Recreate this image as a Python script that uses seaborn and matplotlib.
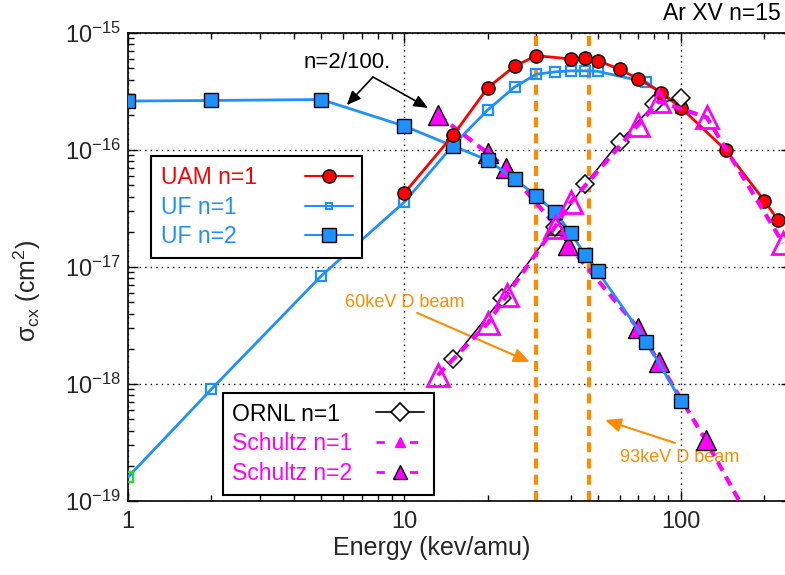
import numpy as np
import pandas as pd
import seaborn as sns
import matplotlib.pyplot as plt
from matplotlib.lines import Line2D
from matplotlib.ticker import LogLocator, FixedLocator, FuncFormatter, NullFormatter, LogFormatterMathtext

# %% data

uam_e = [10, 15, 20, 25, 30, 40, 45, 50, 60, 70, 85, 100, 145, 200, 225]
uam_s = [4.3e-17, 1.34e-16, 3.4e-16, 5.2e-16, 6.4e-16, 6.0e-16, 6.1e-16, 5.8e-16,
         4.9e-16, 4.05e-16, 3.1e-16, 2.3e-16, 1.0e-16, 3.7e-17, 2.5e-17]

uf1_e = [1, 2, 5, 10, 15, 20, 25, 30, 35, 40, 45, 50, 75, 100]
uf1_s = [1.6e-19, 9.0e-19, 8.4e-18, 3.6e-17, 1.1e-16, 2.2e-16, 3.45e-16, 4.45e-16,
         4.65e-16, 4.75e-16, 4.75e-16, 4.7e-16, 3.8e-16, 2.3e-16]

uf2_e = [1, 2, 5, 10, 15, 20, 25, 30, 35, 40, 45, 50, 75, 100]
uf2_s = [2.62e-16, 2.65e-16, 2.7e-16, 1.6e-16, 1.08e-16, 8.2e-17, 5.65e-17, 4.05e-17,
         2.95e-17, 1.95e-17, 1.27e-17, 9.2e-18, 2.3e-18, 7.2e-19]

ornl_e = [15, 22.5, 35, 45, 60, 80, 100]
ornl_s = [1.64e-18, 5.4e-18, 2.2e-17, 5.1e-17, 1.18e-16, 2.45e-16, 2.8e-16]

sch1_e = [13.2, 20, 23.5, 35, 40, 70, 83, 124, 234]
sch1_s = [1.19e-18, 3.3e-18, 5.8e-18, 2.2e-17, 3.6e-17, 1.64e-16, 2.6e-16, 1.9e-16, 1.6e-17]

sch2_e = [13.2, 20, 23.3, 35, 39, 70, 83, 123, 234]
sch2_s = [2.0e-16, 9.4e-17, 7.0e-17, 2.3e-17, 1.55e-17, 3.0e-18, 1.55e-18, 3.3e-19, 2.1e-20]

beam_e = [30, 46.5]  # 60 keV and 93 keV D beams, per amu

x_ticks = [1, 10, 100]
y_ticks = [1e-19, 1e-18, 1e-17, 1e-16, 1e-15]

# %% style

sns.set_theme(style='ticks')
plt.rcParams['font.family'] = ['Liberation Sans', 'DejaVu Sans']
plt.rcParams['mathtext.fontset'] = 'custom'
plt.rcParams['mathtext.rm'] = 'Liberation Sans'
plt.rcParams['mathtext.it'] = 'Liberation Sans:italic'
plt.rcParams['mathtext.bf'] = 'Liberation Sans:bold'

red = '#FF0000'
blue = '#1E90FF'
mag = '#FF00FF'
orange = '#FF8C00'

fig = plt.figure(figsize=(7.85, 5.75), dpi=100)
ax = fig.add_axes([128/785, 74/575, 663/785, 468/575])
ax.set_xscale('log')
ax.set_yscale('log')

for x in beam_e:
    ax.axvline(x, color=orange, lw=3, linestyle=(0, (2.4, 1.5)), zorder=1.5)

sns.lineplot(x=uf1_e, y=uf1_s, ax=ax, estimator=None, sort=False, color=blue, lw=2,
             marker='s', markersize=7, markerfacecolor='none', markeredgecolor=blue,
             markeredgewidth=1.6, zorder=3)
sns.lineplot(x=uf1_e[:1], y=uf1_s[:1], ax=ax, estimator=None, color='#22DD22', lw=0,
             marker='s', markersize=7, markerfacecolor='none', markeredgecolor='#22DD22',
             markeredgewidth=1.6, zorder=3)
sns.lineplot(x=sch2_e, y=sch2_s, ax=ax, estimator=None, sort=False, color=mag, lw=3,
             linestyle=(0, (2.4, 1.6)), marker='^', markersize=14, markerfacecolor=mag,
             markeredgecolor='black', markeredgewidth=1, zorder=4)
sns.lineplot(x=uf2_e, y=uf2_s, ax=ax, estimator=None, sort=False, color=blue, lw=2,
             marker='s', markersize=9.5, markerfacecolor=blue, markeredgecolor='black',
             markeredgewidth=1, zorder=5)
sns.lineplot(x=uam_e, y=uam_s, ax=ax, estimator=None, sort=False, color=red, lw=2,
             marker='o', markersize=9.5, markerfacecolor=red, markeredgecolor='black',
             markeredgewidth=1, zorder=6)
sns.lineplot(x=ornl_e, y=ornl_s, ax=ax, estimator=None, sort=False, color='black', lw=1.1,
             marker='D', markersize=9, markerfacecolor='white', markeredgecolor='black',
             markeredgewidth=1.1, zorder=7)
sns.lineplot(x=sch1_e, y=sch1_s, ax=ax, estimator=None, sort=False, color=mag, lw=3,
             linestyle=(0, (2.4, 1.6)), marker='^', markersize=15.5, markerfacecolor='none',
             markeredgecolor=mag, markeredgewidth=2, zorder=8)

ax.set_xlim(1, 250)
ax.set_ylim(1e-19, 1e-15)

# ticks, IDL look
ax.xaxis.set_major_locator(FixedLocator(x_ticks))
ax.xaxis.set_minor_locator(LogLocator(base=10, subs=range(2, 10)))
ax.xaxis.set_major_formatter(FuncFormatter(lambda v, p: f'{v:g}'))
ax.xaxis.set_minor_formatter(NullFormatter())
ax.yaxis.set_major_locator(FixedLocator(y_ticks))
ax.yaxis.set_minor_locator(LogLocator(base=10, subs=range(2, 10)))
ax.yaxis.set_major_formatter(LogFormatterMathtext())
ax.yaxis.set_minor_formatter(NullFormatter())
ax.tick_params(which='both', direction='in', top=True, right=True, color='black', width=1)
ax.tick_params(which='major', length=7, labelsize=17)
ax.tick_params(which='minor', length=4.5)
ax.tick_params(axis='x', which='major', pad=7)
ax.tick_params(axis='y', which='major', pad=5)
for s in ax.spines.values():
    s.set_linewidth(1.2)
    s.set_color('black')

ax.grid(which='major', color='black', lw=1, linestyle=(0, (1, 3)))
ax.grid(which='minor', visible=False)

ax.set_xlabel('Energy (kev/amu)', fontsize=18)
ax.set_ylabel(r'σ$_{\rm cx}$ (cm$^2$)', fontsize=18)
ax.xaxis.set_label_coords(0.4585, -0.075)
ax.yaxis.set_label_coords(-0.128, 0.449)


def spread_rows(leg, width_px):
    # text on the left, symbol flush right, like the IDL legend
    for col in leg._legend_handle_box.get_children():
        col.align = 'left'
        for row in col.get_children():
            row.mode = 'expand'
            row.width = width_px


# legends
h1 = [Line2D([], [], color=red, lw=1.5, marker='o', markersize=9.5, markerfacecolor=red,
             markeredgecolor='black', markeredgewidth=1),
      Line2D([], [], color=blue, lw=1.5, marker='s', markersize=5, markerfacecolor='none',
             markeredgecolor=blue, markeredgewidth=1.5),
      Line2D([], [], color=blue, lw=1.5, marker='s', markersize=9.5, markerfacecolor=blue,
             markeredgecolor='black', markeredgewidth=1)]
leg1 = ax.legend(h1, ['UAM n=1', 'UF n=1', 'UF n=2'], loc='upper left',
                 bbox_to_anchor=(0.0347, 0.737), borderaxespad=0, fontsize=16.5,
                 labelcolor=[red, blue, blue], markerfirst=False, handlelength=2.1,
                 handletextpad=0.4, labelspacing=0.3, borderpad=0.42, fancybox=False,
                 edgecolor='black', framealpha=1)
leg1.get_frame().set_linewidth(1.5)
leg1.set_zorder(20)
spread_rows(leg1, 192)
ax.add_artist(leg1)

h2 = [Line2D([], [], color='black', lw=1.2, marker='D', markersize=9, markerfacecolor='white',
             markeredgecolor='black', markeredgewidth=1.2),
      Line2D([], [], color=mag, lw=2, linestyle=(0, (3.0, 9)), marker='^', markersize=7,
             markerfacecolor=mag, markeredgecolor=mag),
      Line2D([], [], color=mag, lw=2, linestyle=(0, (3.0, 9)), marker='^', markersize=9.5,
             markerfacecolor=mag, markeredgecolor='black', markeredgewidth=1)]
leg2 = ax.legend(h2, ['ORNL n=1', 'Schultz n=1', 'Schultz n=2'], loc='upper left',
                 bbox_to_anchor=(0.143, 0.231), borderaxespad=0, fontsize=16.5,
                 labelcolor=['black', mag, mag], markerfirst=False, handlelength=2.1,
                 handletextpad=0.4, labelspacing=0.3, borderpad=0.42, fancybox=False,
                 edgecolor='black', framealpha=1)
leg2.get_frame().set_linewidth(1.5)
leg2.set_zorder(20)
spread_rows(leg2, 192)

# annotations
ax.text(0.330, 0.938, 'n=2/100.', transform=ax.transAxes, ha='center', va='center',
        fontsize=16, color='black')
for tip in [(0.330, 0.846), (0.4525, 0.840)]:
    ax.annotate('', xy=tip, xycoords='axes fraction', xytext=(0.3695, 0.906),
                textcoords='axes fraction',
                arrowprops=dict(arrowstyle='-|>,head_length=0.7,head_width=0.3',
                                color='black', lw=1.2, shrinkA=0, shrinkB=0))

ax.text(0.327, 0.425, '60keV D beam', transform=ax.transAxes, ha='left', va='center',
        fontsize=13, color=orange)
ax.annotate('', xy=(0.606, 0.297), xycoords='axes fraction', xytext=(0.436, 0.402),
            textcoords='axes fraction',
            arrowprops=dict(arrowstyle='-|>,head_length=0.8,head_width=0.35',
                            color=orange, lw=1.5, shrinkA=0, shrinkB=0))
ax.text(0.742, 0.094, '93keV D beam', transform=ax.transAxes, ha='left', va='center',
        fontsize=13, color=orange)
ax.annotate('', xy=(0.7195, 0.173), xycoords='axes fraction', xytext=(0.825, 0.124),
            textcoords='axes fraction',
            arrowprops=dict(arrowstyle='-|>,head_length=0.8,head_width=0.35',
                            color=orange, lw=1.5, shrinkA=0, shrinkB=0))

fig.text(663/785, 1 - 14/575, 'Ar XV n=15', ha='left', va='center', fontsize=16.5,
         color='black')

fig.savefig('out.png', dpi=100)
